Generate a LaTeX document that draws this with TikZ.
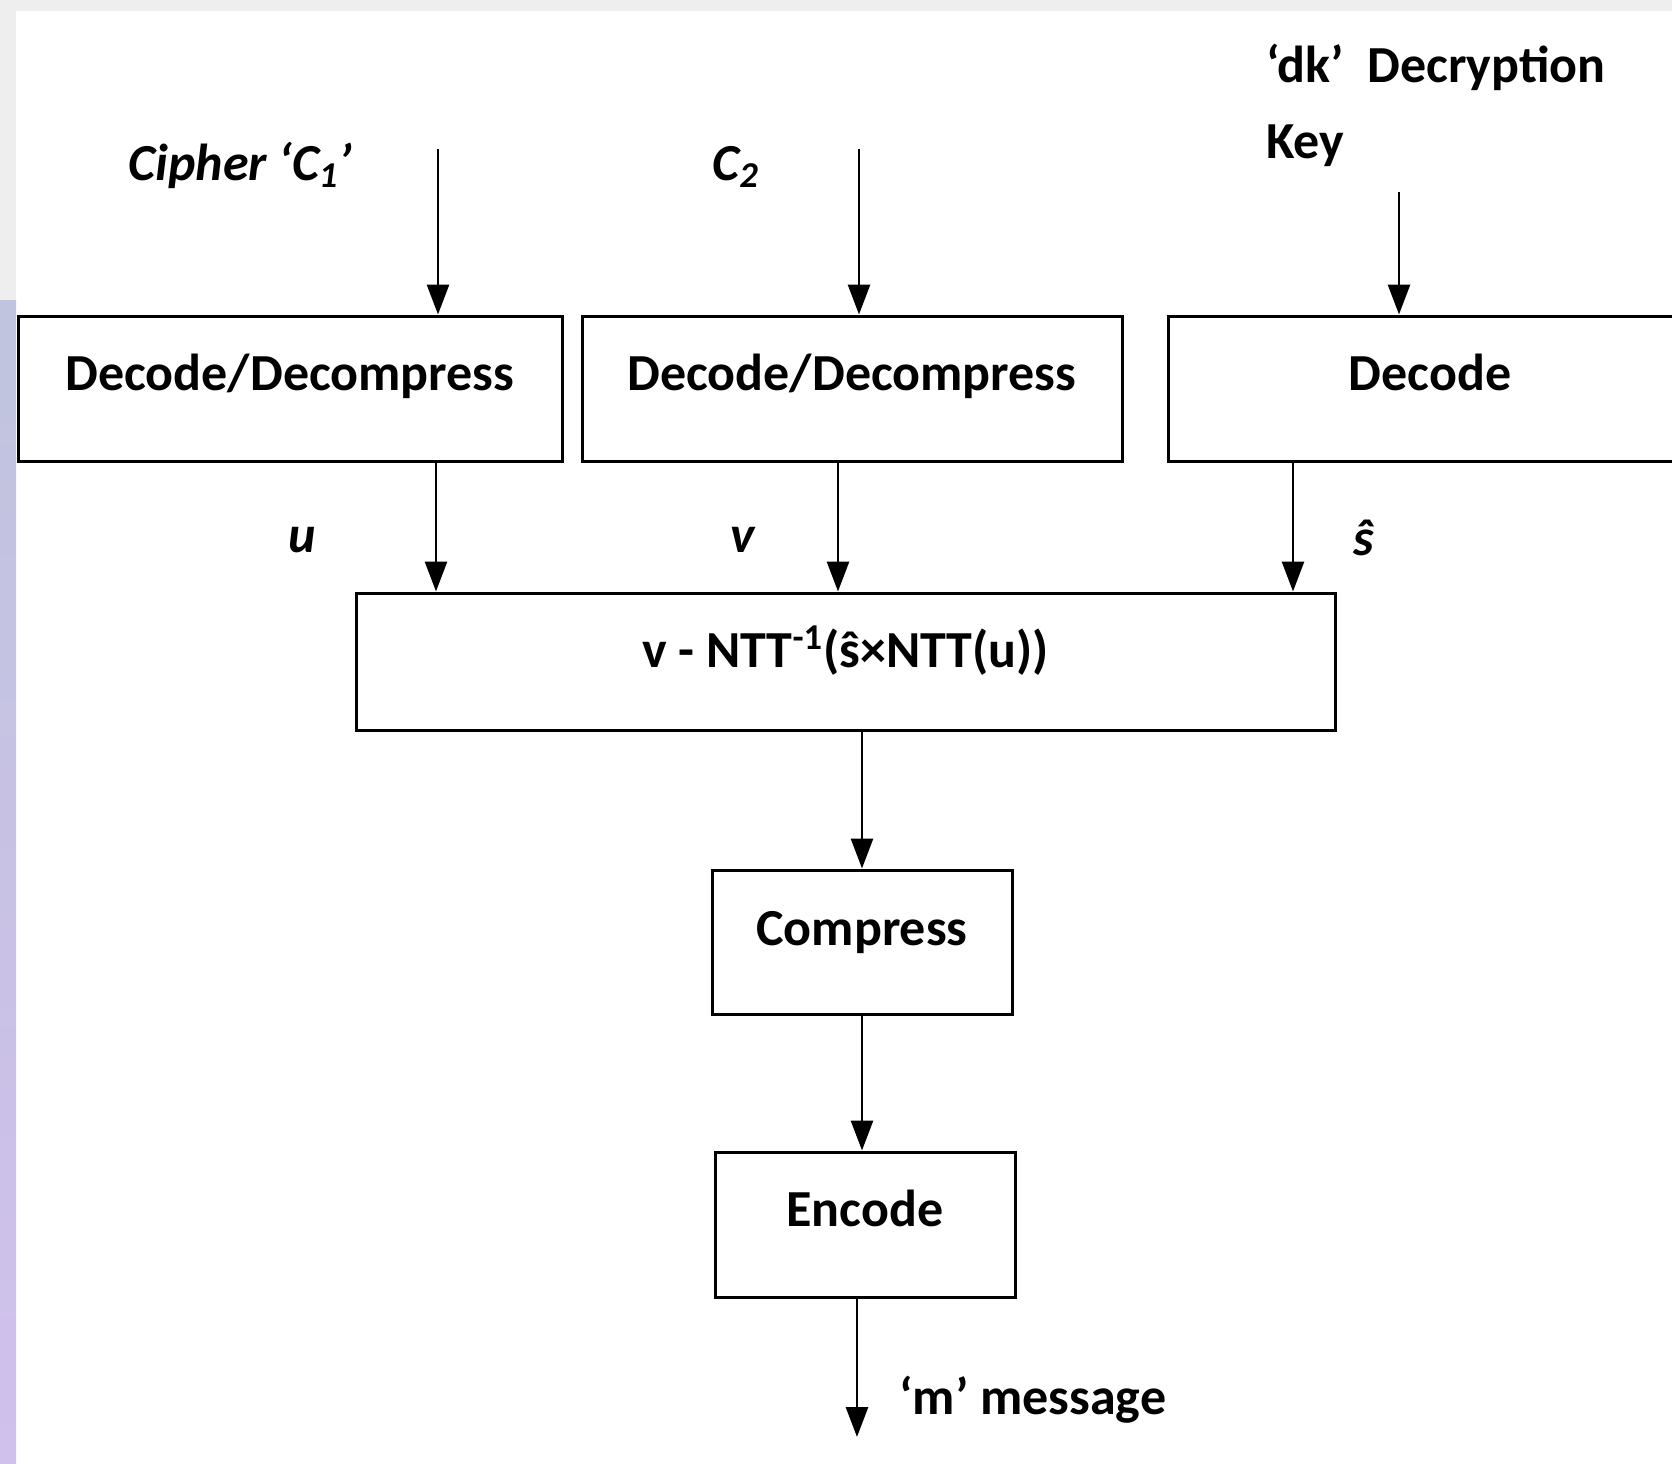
\documentclass[tikz,border=0pt]{standalone}
\usepackage{fontspec}
\setmainfont{Carlito}
\usetikzlibrary{arrows.meta}
\definecolor{bggray}{RGB}{238,238,238}
\definecolor{stripblue}{RGB}{192,196,222}
\definecolor{striplav}{RGB}{208,192,236}
\begin{document}
\begin{tikzpicture}[x=0.5pt,y=-0.5pt,
    box/.style={draw,line width=1.5pt,rectangle,inner sep=0pt,text height=18pt,text depth=16pt,font=\fontsize{26}{31}\selectfont\bfseries},
    lbl/.style={inner sep=0pt,font=\fontsize{26}{38}\selectfont\bfseries},
    arr/.style={line width=1.4pt,-{Triangle[length=15pt,width=11pt]}}]
  % page and margins
  \useasboundingbox (0,0) rectangle (1672,1463);
  \clip (0,0) rectangle (1672,1463);
  \fill[bggray] (0,0) rectangle (1672,1463);
  \fill[white] (16,11) rectangle (1672,1463);
  \shade[top color=stripblue,bottom color=striplav] (0,300) rectangle (16,1463);

  % boxes
  \node[box,minimum width=272pt,minimum height=72.5pt] at (290,388.5) (dec1) {Decode/Decompress};
  \node[box,minimum width=270pt,minimum height=72.5pt] at (852,388.5) (dec2) {Decode/Decompress};
  \node[box,minimum width=262pt,minimum height=72.5pt] at (1430,388.5) (dec3) {Decode};
  \node[box,minimum width=489.5pt,minimum height=68.5pt,text depth=12pt] at (845.5,661.5) (ntt) {v - NTT\textsuperscript{-1}(ŝ×NTT(u))};
  \node[box,minimum width=150pt,minimum height=72pt,text depth=15pt] at (862,942) (comp) {Compress};
  \node[box,minimum width=150pt,minimum height=72.5pt] at (865,1224.5) (enc) {Encode};

  % labels
  \node[lbl,anchor=west] at (128,165) (c1) {\itshape Cipher ‘C\textsubscript{1}’};
  \node[lbl,anchor=west] at (712,167) (c2) {\itshape C\textsubscript{2}};
  \node[lbl,anchor=west,align=left] at (1266,105) (dk) {‘dk’\ \ Decryption\\Key};
  \node[lbl] at (302,540) (u) {\itshape u};
  \node[lbl] at (743,540) (v) {\itshape v};
  \node[lbl] at (1364,538) (s) {\itshape ŝ};
  \node[lbl,anchor=west] at (899,1400) (m) {‘m’ message};

  % arrow ends
  \coordinate (c1in) at (438,149);
  \coordinate (c2in) at (859,149);
  \coordinate (dkin) at (1399,192);
  \coordinate (uin) at (436,0);
  \coordinate (vin) at (838,0);
  \coordinate (sin) at (1293,0);
  \coordinate (mout) at (857,1437);

  \draw[arr] (c1in) -- (c1in |- dec1.north);
  \draw[arr] (c2in) -- (c2in |- dec2.north);
  \draw[arr] (dkin) -- (dkin |- dec3.north);
  \draw[arr] (dec1.south -| uin) -- (ntt.north -| uin);
  \draw[arr] (dec2.south -| vin) -- (ntt.north -| vin);
  \draw[arr] (dec3.south -| sin) -- (ntt.north -| sin);
  \draw[arr] (ntt.south -| comp) -- (comp.north);
  \draw[arr] (comp.south) -- (enc.north -| comp);
  \draw[arr] (enc.south -| mout) -- (mout);
\end{tikzpicture}
\end{document}
